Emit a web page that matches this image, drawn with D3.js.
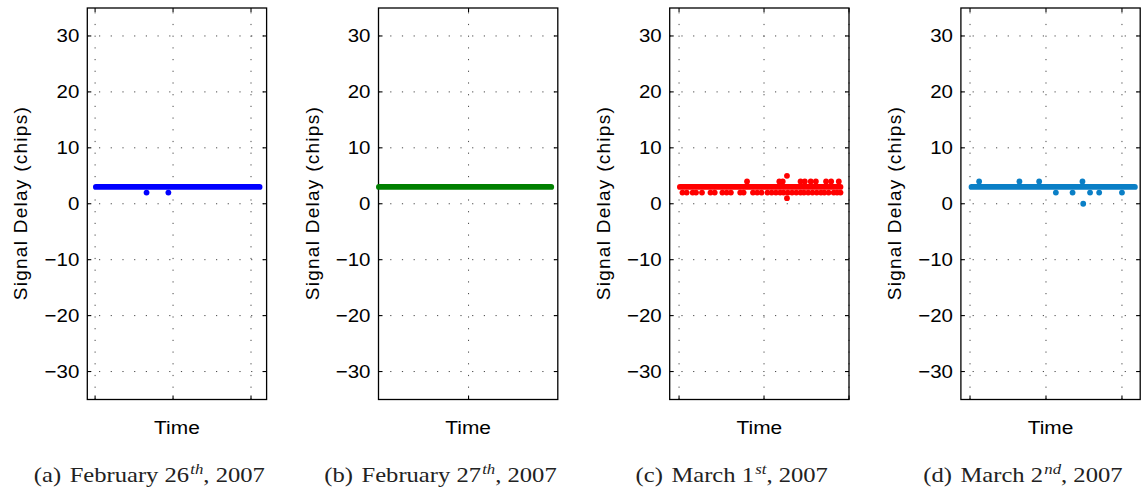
<!DOCTYPE html>
<html>
<head>
<meta charset="utf-8">
<script src="https://cdn.jsdelivr.net/npm/d3@7"></script>
<style>
  body { margin: 0; background: #fff; }
  svg { display: block; }
</style>
</head>
<body>
<div id="vis"></div>
<script>
const W = 1143, H = 491;
const plotW = 179.3, plotTop = 8, plotBottom = 399.5;
const panelLeft0 = 87.3, panelStep = 291.2;
const stretch = 1.1;
const capStretch = 1.2;

const panelLabels = ['(a)', '(b)', '(c)', '(d)'];
const captionDays = ['February 26', 'February 27', 'March 1', 'March 2'];
const captionSups = ['th', 'th', 'st', 'nd'];
const captionYear = ', 2007';
const seriesColors = ['#0000ff', '#008000', '#ff0000', '#0a7fc6'];

const yDomain = [-35, 35];
const yTicks = [-30, -20, -10, 0, 10, 20, 30];
const xDomains = [[-0.1, 2.2], [0.096, 1.896], [-0.11, 2.0], [-0.12, 2.24]];
const xTicks = [[0, 1, 2], [1], [0, 1, 2], [0, 1, 2]];

// the dense run of samples sitting at 3 chips
const steadyDelay = [3, 3, 3, 3];
const steadyStart = [0.01, 0.10, 0.01, 0.02];
const steadyEnd = [2.11, 1.83, 1.90, 2.17];

// samples off the steady value
const offTimesA = [0.66, 0.94];
const offDelaysA = [2, 2];
const offTimesB = [];
const offDelaysB = [];
const offTimesC = [0.04, 0.09, 0.16, 0.20, 0.27, 0.37, 0.42, 0.51, 0.56, 0.61, 0.72, 0.76,
    0.87, 0.92, 0.97, 1.04, 1.09, 1.14, 1.19, 1.23, 1.28, 1.33, 1.38, 1.43, 1.47, 1.52,
    1.57, 1.62, 1.67, 1.71, 1.76, 1.82, 1.86, 1.90,
    0.80, 1.18, 1.22, 1.43, 1.48, 1.55, 1.61, 1.73, 1.79, 1.88,
    1.27, 1.27];
const offDelaysC = [2, 2, 2, 2, 2, 2, 2, 2, 2, 2, 2, 2,
    2, 2, 2, 2, 2, 2, 2, 2, 2, 2, 2, 2, 2, 2,
    2, 2, 2, 2, 2, 2, 2, 2,
    4, 4, 4, 4, 4, 4, 4, 4, 4, 4,
    5, 1];
const offTimesD = [0.12, 0.65, 0.91, 1.13, 1.35, 1.48, 1.49, 1.58, 1.70, 2.0];
const offDelaysD = [4, 4, 4, 2, 2, 4, 0, 2, 2, 2];

const offTimes = [offTimesA, offTimesB, offTimesC, offTimesD];
const offDelays = [offDelaysA, offDelaysB, offDelaysC, offDelaysD];

const sans = '"Liberation Sans", Arial, Helvetica, sans-serif';
const serif = '"Liberation Serif", "Times New Roman", Times, serif';

const svg = d3.select('#vis')
    .append('svg')
    .attr('width', W)
    .attr('height', H);

const yScale = d3.scaleLinear().domain(yDomain).range([plotBottom, plotTop]);

// text widened a little to match the reference proportions
function stretchedText(parent, x, y, anchor, sx = stretch) {
    return parent.append('g')
        .attr('transform', `translate(${x},${y}) scale(${sx},1)`)
        .append('text')
        .attr('text-anchor', anchor);
}

panelLabels.forEach((label, i) => {
    const left = panelLeft0 + i * panelStep;
    const g = svg.append('g').attr('transform', `translate(${left},0)`);
    const xScale = d3.scaleLinear().domain(xDomains[i]).range([0, plotW]);

    // dotted grid
    g.selectAll('.ygrid')
        .data(yTicks)
        .join('line')
        .attr('class', 'ygrid')
        .attr('x1', 0).attr('x2', plotW)
        .attr('y1', d => yScale(d)).attr('y2', d => yScale(d))
        .attr('stroke', '#333')
        .attr('stroke-width', 0.9)
        .attr('stroke-dasharray', '1.2,10.5');

    g.selectAll('.xgrid')
        .data(xTicks[i])
        .join('line')
        .attr('class', 'xgrid')
        .attr('x1', d => xScale(d)).attr('x2', d => xScale(d))
        .attr('y1', plotBottom).attr('y2', plotTop)
        .attr('stroke', '#333')
        .attr('stroke-width', 0.9)
        .attr('stroke-dasharray', '1.2,10.5');

    // tick marks on all four sides, pointing in
    const tl = 4;
    g.selectAll('.ytickL')
        .data(yTicks)
        .join('line')
        .attr('x1', 0).attr('x2', tl)
        .attr('y1', d => yScale(d)).attr('y2', d => yScale(d))
        .attr('stroke', '#000').attr('stroke-width', 1.1);
    g.selectAll('.ytickR')
        .data(yTicks)
        .join('line')
        .attr('x1', plotW - tl).attr('x2', plotW)
        .attr('y1', d => yScale(d)).attr('y2', d => yScale(d))
        .attr('stroke', '#000').attr('stroke-width', 1.1);
    g.selectAll('.xtickB')
        .data(xTicks[i])
        .join('line')
        .attr('x1', d => xScale(d)).attr('x2', d => xScale(d))
        .attr('y1', plotBottom).attr('y2', plotBottom - tl)
        .attr('stroke', '#000').attr('stroke-width', 1.1);
    g.selectAll('.xtickT')
        .data(xTicks[i])
        .join('line')
        .attr('x1', d => xScale(d)).attr('x2', d => xScale(d))
        .attr('y1', plotTop).attr('y2', plotTop + tl)
        .attr('stroke', '#000').attr('stroke-width', 1.1);

    g.append('rect')
        .attr('x', 0).attr('y', plotTop)
        .attr('width', plotW).attr('height', plotBottom - plotTop)
        .attr('fill', 'none')
        .attr('stroke', '#000')
        .attr('stroke-width', 1.3);

    // data
    const steady = [[steadyStart[i], steadyDelay[i]], [steadyEnd[i], steadyDelay[i]]];
    g.append('path')
        .datum(steady)
        .attr('d', d3.line().x(d => xScale(d[0])).y(d => yScale(d[1])))
        .attr('stroke', seriesColors[i])
        .attr('stroke-width', 5.8)
        .attr('stroke-linecap', 'round')
        .attr('fill', 'none');

    const pts = offTimes[i].map((t, k) => [t, offDelays[i][k]]);
    g.selectAll('.pt')
        .data(pts)
        .join('circle')
        .attr('class', 'pt')
        .attr('cx', d => xScale(d[0]))
        .attr('cy', d => yScale(d[1]))
        .attr('r', 2.9)
        .attr('fill', seriesColors[i]);

    // y tick labels
    yTicks.forEach(v => {
        stretchedText(g, -8, yScale(v), 'end')
            .attr('dy', '0.35em')
            .style('font-family', sans)
            .style('font-size', '18.6px')
            .text(v < 0 ? '\u2212' + Math.abs(v) : v);
    });

    stretchedText(g, plotW / 2, 434.3, 'middle')
        .style('font-family', sans)
        .style('font-size', '19px')
        .text('Time');

    g.append('text')
        .attr('transform', `translate(-60,${(plotTop + plotBottom) / 2}) rotate(-90)`)
        .attr('text-anchor', 'middle')
        .attr('textLength', 193)
        .attr('lengthAdjust', 'spacing')
        .style('font-family', sans)
        .style('font-size', '19px')
        .text('Signal Delay (chips)');

    // sub caption
    const cap = stretchedText(g, 62, 481.5, 'middle', capStretch)
        .style('font-family', serif)
        .style('font-size', '20.5px')
        .attr('fill', '#222');
    cap.append('tspan').text(label);
    cap.append('tspan').attr('dx', 2).text(' ' + captionDays[i]);
    cap.append('tspan')
        .attr('dy', -8)
        .attr('dx', 1)
        .style('font-size', '14px')
        .style('font-style', 'italic')
        .text(captionSups[i]);
    cap.append('tspan').attr('dy', 8).text(captionYear);
});
</script>
</body>
</html>
